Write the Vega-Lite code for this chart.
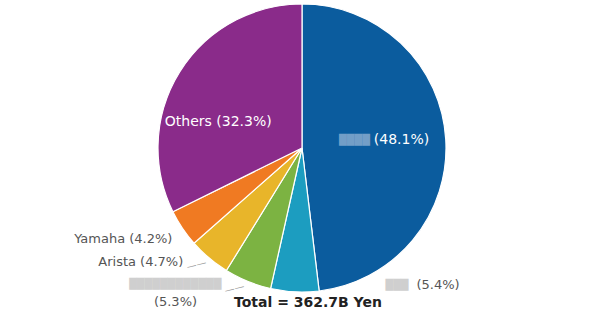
{
  "$schema": "https://vega.github.io/schema/vega-lite/v6.json",
  "width": 596,
  "height": 296,
  "padding": {"left": 4, "top": 0, "right": 0, "bottom": 0},
  "autosize": {"type": "pad"},
  "background": "white",
  "config": {"view": {"stroke": null}, "font": "DejaVu Sans"},
  "title": {"text": "Total = 362.7B Yen", "orient": "bottom", "anchor": "middle", "dx": 6, "offset": -13, "fontSize": 14, "fontWeight": "bold", "color": "#222222", "font": "DejaVu Sans"},
  "data": {"values": [
    {"idx": 1, "company": "Company A", "share": 48.1, "name": "████", "pct": "(48.1%)"},
    {"idx": 2, "company": "Company B", "share": 5.4, "name": "███", "pct": "(5.4%)"},
    {"idx": 3, "company": "Company C", "share": 5.3, "name": "████████████", "pct": "(5.3%)"},
    {"idx": 4, "company": "Arista", "share": 4.7, "name": "Arista", "pct": "(4.7%)"},
    {"idx": 5, "company": "Yamaha", "share": 4.2, "name": "Yamaha", "pct": "(4.2%)"},
    {"idx": 6, "company": "Others", "share": 32.3, "name": "Others", "pct": "(32.3%)"}
  ]},
  "transform": [
    {"stack": "share", "groupby": [], "sort": [{"field": "idx"}], "as": ["s0", "s1"]},
    {"calculate": "(datum.s0 + datum.s1) / 2", "as": "mid"}
  ],
  "layer": [
    {
      "mark": {"type": "arc", "outerRadius": 144, "stroke": "white", "strokeWidth": 1.2},
      "encoding": {
        "theta": {"field": "s0", "type": "quantitative", "scale": {"domain": [0, 100]}},
        "theta2": {"field": "s1"},
        "color": {"field": "company", "type": "nominal", "legend": null,
          "scale": {"domain": ["Company A", "Company B", "Company C", "Arista", "Yamaha", "Others"],
                    "range": ["#0b5c9e", "#1c9dc0", "#7cb342", "#e8b52a", "#f07a22", "#8a2b8a"]}}
      }
    },
    {
      "transform": [{"filter": "datum.idx == 1"}],
      "mark": {"type": "text", "radius": 88, "align": "left", "baseline": "middle", "dx": -16, "dy": -3, "fontSize": 14, "color": "white"},
      "encoding": {"theta": {"field": "mid", "type": "quantitative"}, "text": {"field": "pct"}}
    },
    {
      "transform": [{"filter": "datum.idx == 1"}],
      "mark": {"type": "text", "radius": 88, "align": "right", "baseline": "middle", "dx": -20, "dy": -3, "fontSize": 10, "color": "#7fa6cc", "opacity": 0.9},
      "encoding": {"theta": {"field": "mid", "type": "quantitative"}, "text": {"field": "name"}}
    },
    {
      "transform": [{"filter": "datum.idx == 6"}],
      "mark": {"type": "text", "radius": 88, "align": "center", "baseline": "middle", "dx": -9, "dy": 20, "fontSize": 14, "color": "white"},
      "encoding": {"theta": {"field": "mid", "type": "quantitative"}, "text": {"value": "Others (32.3%)"}}
    },
    {
      "transform": [{"filter": "datum.idx == 2"}],
      "mark": {"type": "text", "radius": 150, "align": "left", "baseline": "middle", "dx": 91, "dy": -13, "fontSize": 10, "color": "#cfcfcf"},
      "encoding": {"theta": {"field": "mid", "type": "quantitative"}, "text": {"field": "name"}}
    },
    {
      "transform": [{"filter": "datum.idx == 2"}],
      "mark": {"type": "text", "radius": 150, "align": "left", "baseline": "middle", "dx": 122, "dy": -13, "fontSize": 13, "color": "#555555"},
      "encoding": {"theta": {"field": "mid", "type": "quantitative"}, "text": {"field": "pct"}}
    },
    {
      "transform": [{"filter": "datum.idx == 3"}],
      "mark": {"type": "text", "radius": 150, "align": "right", "baseline": "middle", "dx": -24, "dy": -3, "fontSize": 10, "color": "#cfcfcf"},
      "encoding": {"theta": {"field": "mid", "type": "quantitative"}, "text": {"field": "name"}}
    },
    {
      "transform": [{"filter": "datum.idx == 3"}],
      "mark": {"type": "text", "radius": 150, "align": "right", "baseline": "middle", "dx": -1, "dy": -1, "angle": -14, "fontSize": 10, "color": "#999999"},
      "encoding": {"theta": {"field": "mid", "type": "quantitative"}, "text": {"value": "——"}}
    },
    {
      "transform": [{"filter": "datum.idx == 3"}],
      "mark": {"type": "text", "radius": 150, "align": "center", "baseline": "middle", "dx": -70, "dy": 15, "fontSize": 13, "color": "#555555"},
      "encoding": {"theta": {"field": "mid", "type": "quantitative"}, "text": {"field": "pct"}}
    },
    {
      "transform": [{"filter": "datum.idx == 4"}],
      "mark": {"type": "text", "radius": 150, "align": "right", "baseline": "middle", "dx": -22, "dy": -1, "fontSize": 13, "color": "#555555"},
      "encoding": {"theta": {"field": "mid", "type": "quantitative"}, "text": {"value": "Arista (4.7%)"}}
    },
    {
      "transform": [{"filter": "datum.idx == 4"}],
      "mark": {"type": "text", "radius": 150, "align": "right", "baseline": "middle", "dx": 1, "dy": 0, "angle": -14, "fontSize": 10, "color": "#999999"},
      "encoding": {"theta": {"field": "mid", "type": "quantitative"}, "text": {"value": "——"}}
    },
    {
      "transform": [{"filter": "datum.idx == 5"}],
      "mark": {"type": "text", "radius": 150, "align": "right", "baseline": "middle", "dx": -5, "dy": 7, "fontSize": 13, "color": "#555555"},
      "encoding": {"theta": {"field": "mid", "type": "quantitative"}, "text": {"value": "Yamaha  (4.2%)"}}
    }
  ]
}
